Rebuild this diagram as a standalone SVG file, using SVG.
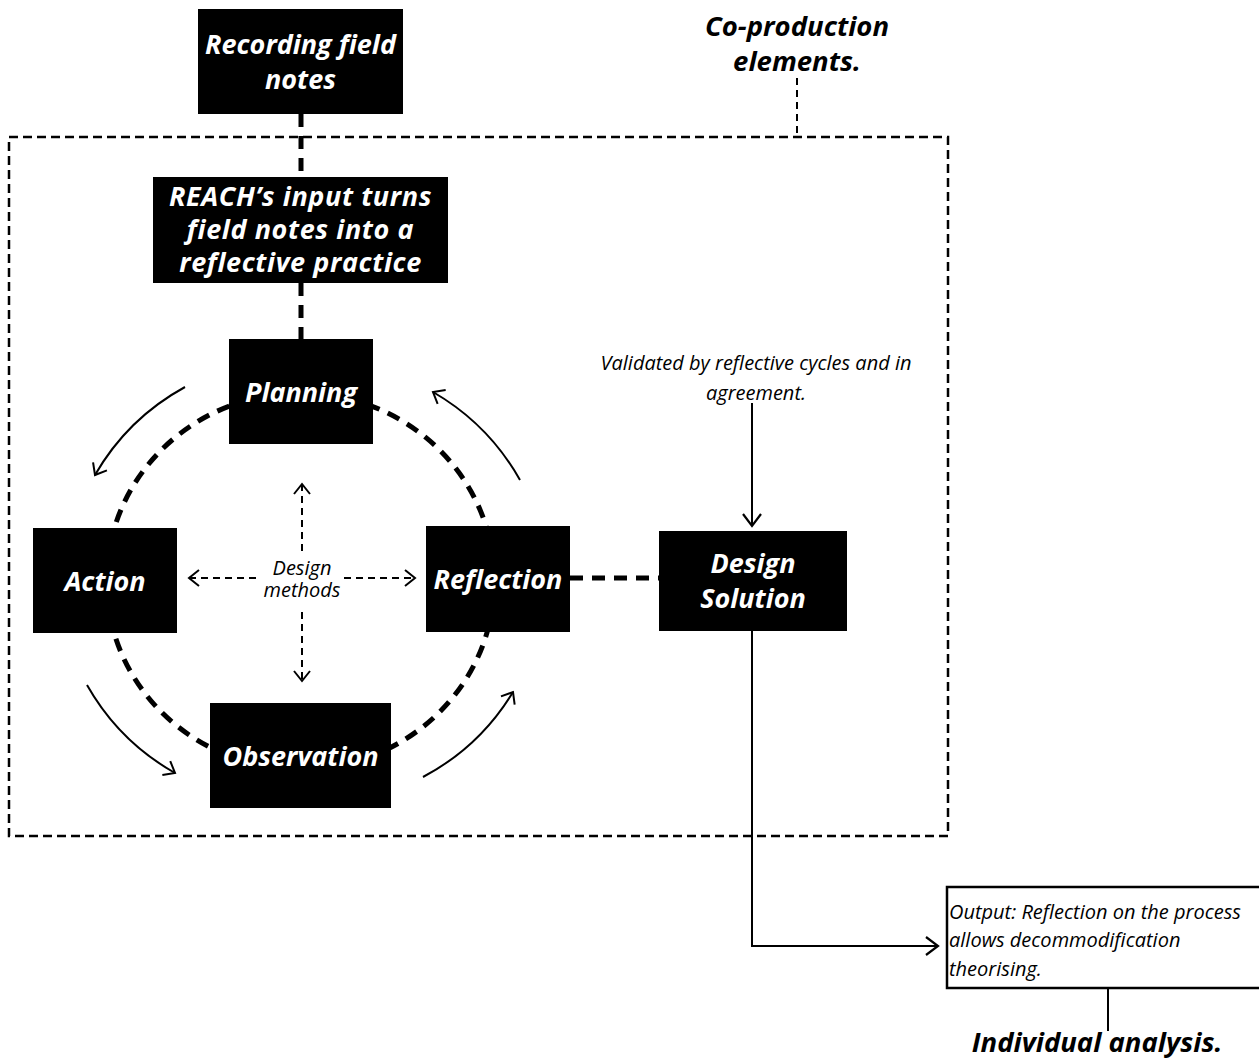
<svg xmlns="http://www.w3.org/2000/svg" width="1259" height="1063" viewBox="0 0 1259 1063">
  <style>
    .box { fill: #000; }
    .lbl { font-family: "Open Sans", "Liberation Sans", sans-serif; font-weight: bold; font-style: italic; font-size: 27px; fill: #fff; text-anchor: middle; }
    .head { font-family: "Open Sans", "Liberation Sans", sans-serif; font-weight: bold; font-style: italic; font-size: 27.5px; fill: #000; text-anchor: middle; }
    .note { font-family: "Open Sans", "Liberation Sans", sans-serif; font-style: italic; font-size: 20px; fill: #000; }
    .thick { fill: none; stroke: #000; stroke-width: 5; stroke-dasharray: 13 9; }
    .thin { fill: none; stroke: #000; stroke-width: 2; }
    .dash { fill: none; stroke: #000; stroke-width: 2; stroke-dasharray: 7 5; }
    .frame { fill: none; stroke: #000; stroke-width: 2.5; stroke-dasharray: 9 5; }
  </style>
  <defs>
    <marker id="chev" viewBox="-1 -10 13 20" refX="10" refY="0" markerWidth="13" markerHeight="20" markerUnits="userSpaceOnUse" orient="auto-start-reverse">
      <path d="M0,-8 L10,0 L0,8" fill="none" stroke="#000" stroke-width="2" stroke-dasharray="none"/>
    </marker>
    <marker id="chevL" viewBox="-1 -11 15 22" refX="12" refY="0" markerWidth="15" markerHeight="22" markerUnits="userSpaceOnUse" orient="auto">
      <path d="M0,-9 L12,0 L0,9" fill="none" stroke="#000" stroke-width="2.2"/>
    </marker>
  </defs>

  <rect width="1259" height="1063" fill="#fff"/>

  <!-- connectors -->
  <g id="connectors">
    <!-- co-production frame and its label leader -->
    <rect class="frame" x="9" y="137" width="939" height="699"/>
    <line class="dash" x1="797" y1="78" x2="797" y2="137" stroke-width="2.5"/>

    <!-- field notes chain into the cycle -->
    <line class="thick" x1="301" y1="114" x2="301" y2="177" stroke-dasharray="10 8"/>
    <line class="thick" x1="301" y1="283" x2="301" y2="339" stroke-dasharray="12 10"/>

    <!-- reflective cycle ring -->
    <ellipse class="thick" cx="300.5" cy="581" rx="194" ry="188"/>

    <!-- cycle direction arrows -->
    <path class="thin" d="M185,387 A233,233 0 0 0 95,475" marker-end="url(#chev)"/>
    <path class="thin" d="M87,685 A233,233 0 0 0 175,773" marker-end="url(#chev)"/>
    <path class="thin" d="M423,777 A233,233 0 0 0 513,692" marker-end="url(#chev)"/>
    <path class="thin" d="M520,480 A235,235 0 0 0 433,392" marker-end="url(#chev)"/>

    <!-- design methods cross -->
    <line class="dash" x1="302" y1="484" x2="302" y2="556" marker-start="url(#chev)"/>
    <line class="dash" x1="302" y1="612" x2="302" y2="681" marker-end="url(#chev)"/>
    <line class="dash" x1="189" y1="578" x2="260" y2="578" marker-start="url(#chev)"/>
    <line class="dash" x1="344" y1="578" x2="415" y2="578" marker-end="url(#chev)"/>

    <!-- reflection to design solution -->
    <line class="thick" x1="570" y1="578" x2="659" y2="578" stroke-dasharray="12 10"/>

    <!-- validation arrow -->
    <line class="thin" x1="752" y1="403" x2="752" y2="526" marker-end="url(#chevL)"/>

    <!-- output path -->
    <path class="thin" d="M752,631 V946 H938" marker-end="url(#chevL)"/>
    <line class="thin" x1="1108" y1="988" x2="1108" y2="1031" stroke-width="2.5"/>
  </g>

  <g id="recording">
    <rect class="box" x="198" y="9" width="205" height="105"/>
    <text class="lbl" x="300.5" y="54">Recording field</text>
    <text class="lbl" x="300.5" y="89">notes</text>
  </g>

  <g id="reach">
    <rect class="box" x="153" y="177" width="295" height="106"/>
    <text class="lbl" x="300.5" y="206" letter-spacing="0.6">REACH’s input turns</text>
    <text class="lbl" x="300.5" y="239" letter-spacing="0.6">field notes into a</text>
    <text class="lbl" x="300.5" y="272" letter-spacing="0.6">reflective practice</text>
  </g>

  <g id="coproduction">
    <text class="head" x="797" y="36">Co-production</text>
    <text class="head" x="797" y="71">elements.</text>
  </g>

  <g id="planning">
    <rect class="box" x="229" y="339" width="144" height="105"/>
    <text class="lbl" x="301" y="402">Planning</text>
  </g>

  <g id="action">
    <rect class="box" x="33" y="528" width="144" height="105"/>
    <text class="lbl" x="105" y="591">Action</text>
  </g>

  <g id="reflection">
    <rect class="box" x="426" y="526" width="144" height="106"/>
    <text class="lbl" x="498" y="589">Reflection</text>
  </g>

  <g id="observation">
    <rect class="box" x="210" y="703" width="181" height="105"/>
    <text class="lbl" x="300.5" y="766">Observation</text>
  </g>

  <g id="design-methods">
    <text class="note" x="302" y="575" text-anchor="middle" font-size="18">Design</text>
    <text class="note" x="302" y="597" text-anchor="middle" font-size="18">methods</text>
  </g>

  <g id="design-solution">
    <rect class="box" x="659" y="531" width="188" height="100"/>
    <text class="lbl" x="753" y="573">Design</text>
    <text class="lbl" x="753" y="608">Solution</text>
  </g>

  <g id="validated">
    <text class="note" x="756" y="370" text-anchor="middle">Validated by reflective cycles and in</text>
    <text class="note" x="756" y="400" text-anchor="middle">agreement.</text>
  </g>

  <g id="output">
    <rect x="947" y="887" width="330" height="101" fill="#fff" stroke="#000" stroke-width="2.5"/>
    <text class="note" x="949" y="919">Output: Reflection on the process</text>
    <text class="note" x="949" y="947">allows decommodification</text>
    <text class="note" x="949" y="976">theorising.</text>
  </g>

  <g id="individual">
    <text class="head" x="1097" y="1052" font-size="25">Individual analysis.</text>
  </g>
</svg>
